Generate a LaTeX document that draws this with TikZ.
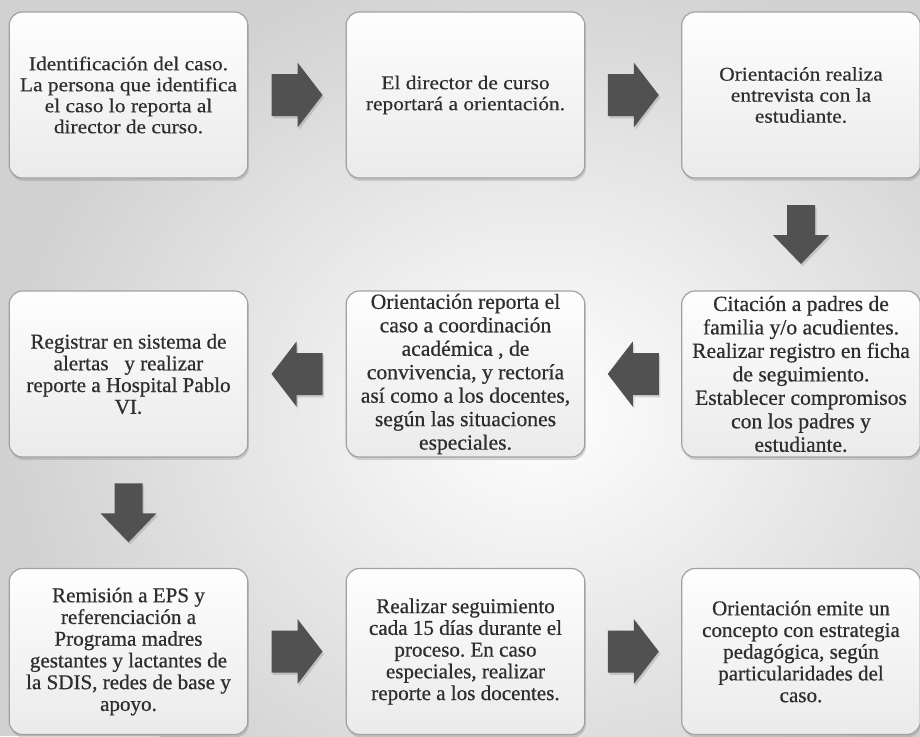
\documentclass[tikz,border=0pt]{standalone}
\usepackage{fontspec}
\setmainfont[FakeBold=0.6]{Liberation Serif}
\newfontfamily\wideserif[FakeStretch=1.1,FakeBold=0.5]{Liberation Serif}
\usetikzlibrary{shadows,calc}
\definecolor{txtc}{HTML}{2E2E2E}
\definecolor{arrc}{HTML}{515151}
\definecolor{bdc}{HTML}{A2A2A2}
\frenchspacing
\begin{document}
\begin{tikzpicture}[x=0.75pt,y=-0.75pt,
  box/.style={draw=bdc, line width=0.9pt, rounded corners=10pt, top color=black!0.5, bottom color=black!8,
    drop shadow={shadow xshift=0.8pt, shadow yshift=-2.2pt, opacity=0.3},
    text=txtc, align=center, inner sep=0pt, minimum width=179pt, minimum height=124.5pt},
  fA/.style={font=\wideserif\fontsize{14.6pt}{15.75pt}\selectfont},
  fB/.style={font=\fontsize{15.8pt}{16.3pt}\selectfont},
  fC/.style={font=\fontsize{16.2pt}{17.6pt}\selectfont},
  arrowfill/.style={fill=arrc, drop shadow={shadow xshift=1.2pt, shadow yshift=-1.8pt, opacity=0.3}},
  rarrow/.pic={\path[arrowfill] (-25.5,-21) -- (0.5,-21) -- (0.5,-32.5) -- (25.5,0) -- (0.5,32.5) -- (0.5,21) -- (-25.5,21) -- cycle;},
  darrow/.pic={\path[arrowfill] (-14,-29.5) -- (14,-29.5) -- (14,0.5) -- (28,0.5) -- (0,29.5) -- (-28,0.5) -- (-14,0.5) -- cycle;}
]
\useasboundingbox (0,0) rectangle (920,736);
\fill[black!18] (0,0) rectangle (920,736);
\shade[inner color=white, outer color=black!18] (540,410) ellipse [x radius=540, y radius=460];

% row 1
\node[box,fA] (b1) at (128.5,95) {Identificación del caso.\\La persona que identifica\\el caso lo reporta al\\director de curso.};
\node[box,fA] (b2) at (465.5,95) {El director de curso\\reportará a orientación.};
\node[box,fA] (b3) at (801,95) {Orientación realiza\\entrevista con la\\estudiante.};
% row 2
\node[box,fB] (b4) at (128.5,374) {Registrar en sistema de\\alertas \ \ y realizar\\reporte a Hospital Pablo\\VI.};
\node[box,fC] (b5) at (465.5,374) {Orientación reporta el\\caso a coordinación\\académica , de\\convivencia, y rectoría\\así como a los docentes,\\según las situaciones\\especiales.};
\node[box,fC] (b6) at (801,374) {Citación a padres de\\familia y/o acudientes.\\Realizar registro en ficha\\de seguimiento.\\Establecer compromisos\\con los padres y\\estudiante.};
% row 3
\node[box,fB] (b7) at (128.5,651.5) {Remisión a EPS y\\referenciación a\\Programa madres\\gestantes y lactantes de\\la SDIS, redes de base y\\apoyo.};
\node[box,fB] (b8) at (465.5,651.5) {Realizar seguimiento\\cada 15 días durante el\\proceso. En caso\\especiales, realizar\\reporte a los docentes.};
\node[box,fB] (b9) at (801,651.5) {Orientación emite un\\concepto con estrategia\\pedagógica, según\\particularidades del\\caso.};

% block arrows
\pic at ($(b1.east)!0.5!(b2.west)$) {rarrow};
\pic at ($(b2.east)!0.5!(b3.west)$) {rarrow};
\pic at ($(b3.south)!0.5!(b6.north)$) {darrow};
\pic[xscale=-1] at ($(b6.west)!0.5!(b5.east)$) {rarrow};
\pic[xscale=-1] at ($(b5.west)!0.5!(b4.east)$) {rarrow};
\pic at ($(b4.south)!0.5!(b7.north)$) {darrow};
\pic at ($(b7.east)!0.5!(b8.west)$) {rarrow};
\pic at ($(b8.east)!0.5!(b9.west)$) {rarrow};
\end{tikzpicture}
\end{document}
